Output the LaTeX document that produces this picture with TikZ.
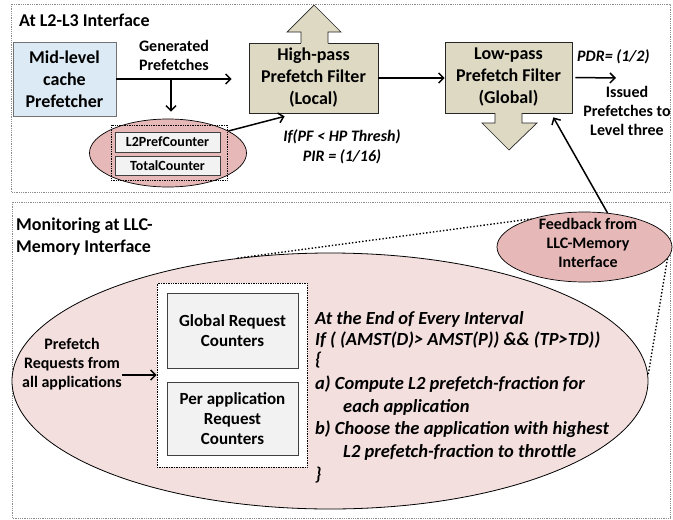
\documentclass[tikz,border=0pt]{standalone}
\usepackage{fontspec}
\setmainfont{Carlito}
\usetikzlibrary{arrows.meta,shapes.geometric}
\definecolor{filtertan}{HTML}{DDD9C3}
\definecolor{midblue}{HTML}{DBEAF4}
\definecolor{pinkdark}{HTML}{E6B9B8}
\definecolor{pinklight}{HTML}{F3DFDE}
\definecolor{cntgray}{HTML}{F2F2F2}
\begin{document}
\begin{tikzpicture}[x=1pt,y=-1pt,
  panel/.style={draw=black!45, densely dotted, line width=0.8pt},
  fA/.style={font=\fontsize{18}{22}\selectfont\bfseries},
  fB/.style={font=\fontsize{16}{19}\selectfont\bfseries},
  fC/.style={font=\fontsize{14}{17}\selectfont\bfseries},
  fD/.style={font=\fontsize{17}{20}\selectfont\bfseries},
  iB/.style={font=\fontsize{16}{20}\selectfont\bfseries\itshape},
  iD/.style={font=\fontsize{18.5}{22}\selectfont\bfseries\itshape, anchor=base west, inner sep=0},
  boxst/.style={draw=black!85, line width=0.7pt, inner sep=0, align=center},
  cbox/.style={draw=black!75, fill=cntgray, line width=0.7pt, inner sep=0, align=center},
  conn/.style={draw, line width=1.5pt, -{Straight Barb[length=5pt,width=10pt]}},
  dotline/.style={draw, dotted, line width=1.4pt},
  arrowshape/.style={draw=black!85, line width=0.7pt}]
\useasboundingbox (0,0) rectangle (673,520);
\fill[white] (0,0) rectangle (673,520);
\draw[panel] (11,4) rectangle (670,192);
\draw[panel] (12,202) rectangle (670,518);

% ---------- top panel ----------
\node[fA, anchor=base west, inner sep=0] (t1) at (19,26) {At L2-L3 Interface};

\node[boxst, fill=midblue, draw=black!55, minimum width=103pt, minimum height=74pt, fA] (mid) at (64.5,79) {Mid-level\\cache\\Prefetcher};
\node[fB, align=center] (gen) at (174,55) {Generated\\Prefetches};

\node[boxst, fill=filtertan, minimum width=129pt, minimum height=70pt, fA] (hp) at (313.5,78) {High-pass\\Prefetch Filter\\(Local)};
\fill[filtertan] (301,43.8) -- (301,32) -- (287,32) -- (314,5) -- (341,32) -- (328,32) -- (328,43.8) -- cycle;
\draw[arrowshape] (301,43) -- (301,32) -- (287,32) -- (314,5) -- (341,32) -- (328,32) -- (328,43);

\node[boxst, fill=filtertan, minimum width=127pt, minimum height=71pt, fA] (lp) at (508.5,77.5) {Low-pass\\Prefetch Filter\\(Global)};
\fill[filtertan] (495,112.2) -- (495,123) -- (482,123) -- (509,150) -- (537,123) -- (522,123) -- (522,112.2) -- cycle;
\draw[arrowshape] (495,113) -- (495,123) -- (482,123) -- (509,150) -- (537,123) -- (522,123) -- (522,113);

\node[ellipse, draw, fill=pinkdark, line width=0.7pt, minimum width=157pt, minimum height=68pt, inner sep=0] (ctr) at (168,153) {};
\node[draw, densely dotted, line width=0.7pt, minimum width=116pt, minimum height=55pt, inner sep=0] (ctrin) at (169,152.5) {};
\node[cbox, minimum width=105pt, minimum height=20pt, fC] (l2c) at (167.5,142) {L2PrefCounter};
\node[cbox, minimum width=105pt, minimum height=19pt, fC] (totc) at (167.5,165.5) {TotalCounter};

\coordinate (br) at (171,79);
\draw[conn, shorten >=17pt] (mid.east) -- (mid.east -| hp.west);
\draw[conn, shorten >=7pt] (br) -- (br |- ctr.north);
\draw[conn] (ctr.20) -- ([xshift=36pt,yshift=-3pt]hp.south west);
\node[iB, align=center] (cond) at (342,147) {If(PF < HP Thresh)\\PIR = (1/16)};

\draw[conn] (hp.east) -- (hp.east -| lp.west);
\node[iB, anchor=west, inner sep=0] (pdr) at (577,57) {PDR= (1/2)};
\coordinate (isse) at (616,78);
\draw[conn] ([xshift=3pt]lp.east) -- (isse);
\node[fB, align=center] (iss) at (627,111) {Issued\\Prefetches to\\Level three};

% ---------- bottom panel ----------
\node[fA, align=left, anchor=west, inner sep=0] (t2) at (16,237) {Monitoring at LLC-\\Memory Interface};

\node[ellipse, draw, fill=pinklight, line width=0.8pt, minimum width=636pt, minimum height=256pt, inner sep=0] (big) at (330,381) {};
\node[draw, densely dotted, fill=white, line width=0.7pt, minimum width=150pt, minimum height=184pt, inner sep=0] (bin) at (232,375) {};
\node[cbox, minimum width=131pt, minimum height=75pt, fD] (grc) at (232.5,330.5) {Global Request\\Counters};
\node[cbox, minimum width=131pt, minimum height=73pt, fD] (par) at (232.5,418.5) {Per application\\Request\\Counters};

\node[fB, align=center] (prq) at (72,364) {Prefetch\\Requests from\\all applications};
\coordinate (prqs) at (122,375);
\draw[conn] (prqs) -- (prqs -| bin.west);

\node[iD] (l1) at (315,324) {At the End of Every Interval};
\node[iD] (l2) at (315,345) {If ( (AMST(D)> AMST(P)) \&\& (TP>TD))};
\node[iD] (l3) at (315,365) {\{};
\node[iD] (l4) at (315,389) {a) Compute L2 prefetch-fraction for};
\node[iD] (l5) at (343,412) {each application};
\node[iD] (l6) at (315,434) {b) Choose the application with highest};
\node[iD] (l7) at (343,457) {L2 prefetch-fraction to throttle};
\node[iD] (l8) at (315,480) {\}};

\node[ellipse, draw, fill=pinkdark, line width=0.7pt, minimum width=175pt, minimum height=70pt, inner sep=0] (fb) at (584.5,247) {};
\node[fB, align=center] (fbt) at (588,243) {Feedback from\\LLC-Memory\\Interface};

\draw[dotline] (big.127) -- (fb.152);
\draw[dotline] (fb.-8) -- (big.1);
\draw[conn] (fb.56) -- ([xshift=-19pt,yshift=-4pt]lp.south east);
\end{tikzpicture}
\end{document}
